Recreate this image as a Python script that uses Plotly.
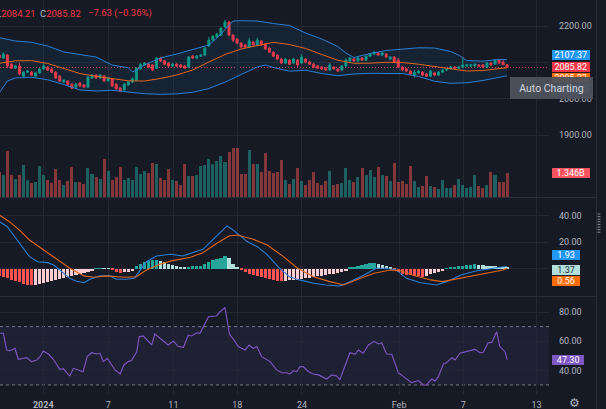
import plotly.graph_objects as go

# candles, left to right (index 0..126)
open_ = [2120, 2112, 2120, 2095, 2084, 2090, 2062, 2073, 2073, 2062,
         2071, 2082, 2087, 2082, 2073, 2062, 2046, 2049, 2040, 2032,
         2043, 2038, 2032, 2057, 2065, 2057, 2062, 2049, 2054, 2040,
         2029, 2024, 2038, 2046, 2051, 2082, 2093, 2095, 2093, 2084,
         2112, 2104, 2098, 2090, 2095, 2093, 2090, 2087, 2117, 2112,
         2117, 2120, 2145, 2161, 2170, 2175, 2197, 2211, 2175, 2164,
         2153, 2148, 2142, 2156, 2148, 2159, 2150, 2139, 2128, 2120,
         2109, 2098, 2106, 2098, 2106, 2098, 2109, 2101, 2095, 2090,
         2087, 2084, 2079, 2087, 2082, 2079, 2090, 2104, 2109, 2104,
         2112, 2106, 2117, 2123, 2126, 2120, 2123, 2109, 2115, 2106,
         2087, 2082, 2076, 2065, 2071, 2073, 2068, 2062, 2071, 2065,
         2073, 2079, 2082, 2087, 2084, 2087, 2090, 2090, 2090, 2093,
         2093, 2087, 2098, 2095, 2106, 2101, 2093.45]
high = [2126, 2128, 2123, 2098, 2093, 2098, 2076, 2079, 2076, 2073,
        2084, 2098, 2090, 2084, 2076, 2065, 2054, 2051, 2043, 2043,
        2046, 2040, 2062, 2068, 2068, 2068, 2065, 2060, 2057, 2043,
        2032, 2043, 2049, 2060, 2087, 2098, 2101, 2098, 2095, 2115,
        2115, 2106, 2101, 2098, 2098, 2095, 2093, 2117, 2120, 2120,
        2123, 2142, 2170, 2175, 2181, 2197, 2217, 2214, 2178, 2167,
        2156, 2150, 2167, 2159, 2167, 2161, 2153, 2142, 2131, 2123,
        2112, 2112, 2109, 2112, 2109, 2123, 2112, 2104, 2098, 2093,
        2090, 2087, 2098, 2090, 2084, 2093, 2112, 2115, 2112, 2115,
        2115, 2120, 2126, 2131, 2128, 2128, 2126, 2117, 2117, 2112,
        2090, 2084, 2079, 2079, 2079, 2076, 2071, 2079, 2073, 2076,
        2082, 2084, 2090, 2090, 2090, 2112, 2095, 2095, 2098, 2095,
        2095, 2101, 2101, 2109, 2109, 2106, 2095]
low = [2109, 2109, 2084, 2082, 2082, 2065, 2060, 2071, 2062, 2060,
       2068, 2079, 2076, 2071, 2054, 2046, 2043, 2035, 2027, 2029,
       2032, 2029, 2029, 2054, 2054, 2054, 2046, 2046, 2032, 2024,
       2018, 2021, 2035, 2043, 2049, 2079, 2090, 2084, 2076, 2082,
       2101, 2093, 2087, 2087, 2087, 2084, 2084, 2084, 2109, 2109,
       2115, 2117, 2142, 2158, 2167, 2172, 2194, 2172, 2156, 2150,
       2139, 2139, 2139, 2145, 2145, 2145, 2134, 2126, 2115, 2106,
       2095, 2095, 2093, 2095, 2087, 2095, 2098, 2093, 2084, 2082,
       2079, 2076, 2076, 2079, 2073, 2076, 2087, 2098, 2101, 2101,
       2104, 2104, 2115, 2120, 2117, 2117, 2112, 2106, 2098, 2084,
       2076, 2073, 2065, 2057, 2068, 2062, 2060, 2060, 2062, 2062,
       2071, 2076, 2079, 2082, 2082, 2084, 2087, 2087, 2087, 2087,
       2084, 2084, 2090, 2093, 2095, 2093, 2084.21]
close = [2112, 2123, 2090, 2084, 2090, 2068, 2073, 2076, 2065, 2071,
         2082, 2090, 2079, 2073, 2057, 2049, 2051, 2038, 2029, 2040,
         2035, 2032, 2060, 2065, 2057, 2065, 2049, 2057, 2035, 2027,
         2021, 2040, 2046, 2054, 2084, 2095, 2098, 2087, 2079, 2112,
         2104, 2095, 2090, 2095, 2090, 2087, 2084, 2115, 2112, 2117,
         2120, 2139, 2161, 2172, 2178, 2194, 2211, 2175, 2161, 2153,
         2142, 2142, 2159, 2148, 2161, 2148, 2137, 2128, 2117, 2109,
         2098, 2109, 2095, 2109, 2093, 2115, 2101, 2095, 2087, 2084,
         2082, 2079, 2093, 2082, 2076, 2090, 2106, 2112, 2104, 2112,
         2106, 2117, 2123, 2128, 2120, 2126, 2115, 2115, 2101, 2087,
         2079, 2076, 2068, 2073, 2076, 2065, 2062, 2076, 2065, 2073,
         2079, 2082, 2087, 2084, 2087, 2093, 2093, 2093, 2095, 2090,
         2087, 2098, 2093, 2106, 2098, 2093.45, 2085.82]
# volume in billions
volume = [1.42, 1.23, 2.59, 1.23, 1.00, 1.27, 1.80, 0.95, 0.80, 0.85,
          1.74, 1.23, 0.95, 0.81, 1.57, 0.98, 0.70, 0.89, 1.70, 0.85,
          0.85, 0.72, 1.67, 1.29, 1.14, 1.00, 2.14, 1.48, 0.98, 1.14,
          1.70, 0.98, 1.08, 0.95, 1.70, 1.29, 1.48, 1.38, 1.95, 1.89,
          1.10, 0.98, 1.61, 0.95, 0.89, 0.70, 1.87, 1.21, 1.17, 1.27,
          1.78, 1.82, 2.14, 1.89, 2.06, 2.31, 1.97, 2.54, 2.80, 2.80,
          1.29, 1.33, 2.69, 1.87, 1.87, 1.42, 2.52, 1.48, 1.38, 1.42,
          2.12, 0.98, 0.72, 1.00, 1.67, 0.89, 0.70, 0.98, 1.42, 0.80,
          0.70, 0.89, 1.48, 0.70, 0.74, 0.81, 1.67, 0.98, 0.85, 1.14,
          1.63, 1.23, 1.51, 1.14, 1.68, 1.27, 1.21, 0.89, 1.93, 0.85,
          0.89, 0.74, 1.74, 0.93, 0.57, 0.62, 1.17, 0.62, 0.57, 0.44,
          0.95, 0.51, 0.53, 0.66, 1.02, 0.70, 0.53, 0.57, 1.23, 0.62,
          0.53, 0.70, 1.42, 1.23, 0.85, 0.85, 1.346]

# Bollinger bands (vertices at candle index)
bb_upper_idx = [0, 4, 8, 12, 16, 20, 24, 28, 32, 33, 34, 36, 40, 44, 48, 52, 54, 56, 58, 60,
                64, 68, 72, 76, 80, 84, 86, 88, 92, 96, 100, 104, 108, 112, 114, 116, 120, 124, 126]
bb_upper = [2167.9, 2158.8, 2155.2, 2145.0, 2128.5, 2122.2, 2114.7, 2092.7, 2085.3, 2073.5,
            2079.0, 2092.7, 2112.0, 2123.0, 2135.4, 2147.8, 2167.0, 2191.8, 2213.8, 2214.6,
            2213.8, 2206.9, 2201.4, 2180.8, 2164.3, 2143.6, 2125.7, 2113.4, 2124.4, 2132.6,
            2135.9, 2140.1, 2139.5, 2129.9, 2120.2, 2105.1, 2103.2, 2108.1, 2107.37]
bb_basis_idx = [0, 4, 8, 12, 16, 20, 24, 28, 32, 36, 40, 44, 48, 52, 56, 60, 64, 68, 72, 76,
                80, 84, 88, 92, 96, 100, 104, 108, 112, 116, 120, 124, 126]
bb_basis = [2097.4, 2104.3, 2104.8, 2096.9, 2083.1, 2069.3, 2061.6, 2056.4, 2049.2, 2048.7,
            2055.6, 2065.2, 2079.0, 2101.0, 2121.6, 2136.8, 2146.4, 2155.2, 2149.1, 2138.1,
            2121.6, 2105.7, 2097.4, 2097.7, 2100.2, 2099.6, 2094.9, 2088.6, 2081.7, 2076.2,
            2077.6, 2083.6, 2085.23]
bb_lower_idx = [0, 1, 2, 4, 8, 12, 16, 20, 24, 28, 32, 36, 40, 44, 48, 52, 56, 60, 64, 66,
                68, 72, 76, 80, 84, 88, 92, 96, 100, 104, 108, 112, 116, 120, 124, 126]
bb_lower = [2015.7, 2033.0, 2048.7, 2056.9, 2058.9, 2052.0, 2039.1, 2023.9, 2021.2, 2023.1,
            2017.6, 2013.7, 2012.1, 2013.2, 2017.6, 2028.0, 2045.4, 2065.2, 2087.2, 2092.7,
            2085.8, 2075.7, 2078.4, 2069.3, 2063.3, 2068.0, 2069.9, 2069.3, 2069.3, 2061.3,
            2047.9, 2042.4, 2043.7, 2050.1, 2057.5, 2063.10]

# MACD
macd_idx = [0, 2, 3.5, 5, 7.5, 9.5, 12, 13.5, 15, 17.5, 19, 21, 22.5, 25, 27.5, 29, 31.5, 33.5,
            35, 36.5, 39, 42.5, 45.5, 48, 50.5, 52.5, 55, 56.5, 58, 61.5, 64, 66.5, 69.5, 72,
            74.5, 78, 81, 84.5, 87, 90.5, 93.5, 96, 98.5, 101, 104.5, 108.5, 111, 114.5, 118.5,
            122.5, 125, 126]
macd_line = [35.5, 31.7, 25.5, 19.3, 9.2, 5.4, 4.7, 2.9, -0.8, -7.1, -9.1, -10.4, -7.8, -5.3,
             -5.3, -7.8, -7.8, -7.1, -0.8, 5.4, 9.7, 11.0, 9.7, 12.2, 14.7, 20.5, 28.0, 32.3,
             29.3, 20.5, 16.7, 10.5, 0.5, -5.9, -8.3, -10.8, -12.1, -12.9, -9.6, -4.6, 0.5, 0.5,
             -0.8, -7.1, -10.4, -12.1, -9.6, -4.6, -1.4, 0.5, 1.7, 1.93]
signal_idx = [0, 2.5, 5, 7.5, 11, 14, 17.5, 21, 23.5, 26.5, 31, 34, 36.5, 40, 43, 47.5, 50.5,
              54, 57, 59, 63, 66.5, 70.5, 74, 78, 82, 85.5, 88.5, 93, 97, 99.5, 102.5, 107,
              110, 114.5, 118.5, 122.5, 125, 126]
signal_line = [40.5, 35.5, 29.2, 21.7, 14.2, 8.0, 0.5, -5.3, -6.3, -5.3, -6.3, -5.9, -0.8, 3.7,
               6.2, 8.7, 12.2, 19.3, 24.7, 25.5, 22.3, 18.0, 9.2, 0.5, -5.9, -9.6, -12.1, -8.3,
               -3.3, -0.8, -1.4, -4.6, -8.3, -9.6, -7.1, -4.6, -2.1, -0.8, 0.56]
macd_hist = [-5.0, -6.0, -7.0, -8.0, -9.0, -10.0, -11.0, -11.8, -12.3, -12.0,
             -11.5, -10.8, -10.0, -9.0, -8.0, -7.5, -7.0, -6.3, -5.5, -4.5,
             -3.5, -3.0, -2.5, -1.5, 0.3, 0.5, 0.4, 0.3, -1.0, -2.0,
             -2.8, -2.5, -2.0, -1.5, 2.5, 4.0, 5.5, 6.3, 6.8, 7.0,
             6.2, 5.0, 4.0, 3.0, 2.2, 1.5, 1.0, 1.5, 2.0, 2.2,
             2.3, 3.5, 5.0, 6.5, 7.5, 8.5, 10.0, 8.0, 4.0, 1.0,
             -1.0, -2.5, -3.5, -4.3, -5.0, -5.8, -6.5, -7.3, -8.0, -8.8,
             -9.3, -9.0, -8.7, -8.3, -8.0, -7.5, -7.0, -6.5, -6.0, -5.5,
             -5.0, -4.5, -4.0, -3.6, -3.2, -2.5, -1.5, 0.8, 1.5, 2.2,
             3.0, 3.5, 4.2, 4.6, 4.0, 3.2, 2.3, 1.2, -1.0, -2.5,
             -3.5, -4.3, -4.8, -5.2, -5.5, -5.8, -5.0, -4.2, -3.4, -2.6,
             -1.8, 0.6, 1.2, 1.7, 2.1, 2.5, 2.8, 3.1, 3.3, 3.0,
             2.6, 2.3, 2.0, 1.8, 1.6, 1.5, 1.37]

# RSI
rsi_idx = [0.2, 1, 1.8, 2.7, 3.9, 4.7, 6, 6.8, 8, 9.3,
           10.1, 10.9, 12.2, 13.4, 15, 15.9, 16.7, 17.5, 18.4, 19.6,
           20.8, 21.8, 22.9, 24.2, 25, 25.8, 26.8, 27.9, 28.7, 30,
           30.9, 32, 32.8, 34.1, 34.7, 35.7, 37, 37.8, 38.6, 39.9,
           41.1, 41.9, 43.2, 44.4, 45.7, 46.9, 47.7, 49, 49.8, 50.6,
           51.9, 53.9, 54.8, 56, 57.1, 58.1, 59.3, 61, 62, 63,
           63.9, 65.1, 66.3, 67.2, 68.8, 70.1, 71.3, 72.1, 73, 73.8,
           74.6, 75.4, 76.7, 77.9, 79.2, 80.4, 81.2, 82.5, 83.7, 84.5,
           85.8, 87, 88.3, 89.1, 90.3, 91.6, 93, 94.1, 94.9, 96.1,
           97.4, 99, 100.3, 101.5, 102.3, 104, 105.2, 106, 107.3, 108.1,
           108.9, 110.2, 111, 112.3, 113.1, 114.3, 115.6, 116.8, 118, 119.3,
           120.1, 121.3, 122.2, 123.4, 124.2, 125.5, 126]
rsi = [65.4, 65.4, 54.0, 53.5, 55.1, 47.6, 48.3, 48.7, 46.0, 47.1,
       49.4, 53.3, 51.2, 47.6, 40.7, 41.2, 38.4, 36.2, 41.4, 40.3,
       39.1, 49.4, 52.1, 51.2, 51.7, 46.0, 48.3, 43.7, 40.3, 37.5,
       43.7, 46.0, 46.7, 52.8, 63.1, 63.6, 59.7, 57.4, 64.9, 62.0,
       59.0, 57.4, 60.1, 56.3, 55.8, 64.2, 63.6, 65.8, 65.4, 70.0,
       76.8, 77.3, 80.2, 83.2, 64.9, 61.3, 56.3, 54.0, 57.4, 55.1,
       56.3, 49.4, 47.1, 46.0, 40.3, 38.4, 38.4, 37.5, 39.8, 39.1,
       42.6, 42.6, 39.1, 37.5, 36.9, 35.3, 34.1, 36.9, 36.2, 33.6,
       42.6, 52.1, 51.0, 54.0, 51.7, 57.4, 59.9, 58.1, 59.0, 51.2,
       51.0, 38.4, 35.7, 33.4, 31.6, 33.0, 30.0, 30.0, 34.1, 32.7,
       35.3, 44.4, 45.3, 48.7, 47.1, 51.7, 52.8, 53.5, 54.4, 52.1,
       52.4, 59.0, 59.2, 66.5, 56.3, 52.8, 47.3]

time_tick_idx = [10.9, 27.05, 43.2, 59.05, 75.1, 99.2, 115.1, 133.3]
time_tick_text = ["<b>2024</b>", "7", "11", "18", "24", "Feb", "7", "13"]
price_ticks = [1900, 2000, 2100, 2200]
price_tick_text = ["1900.00", "2000.00", "", "2200.00"]   # 2100 sits under the value tags
macd_ticks = [0, 20, 40]
macd_tick_text = ["", "20.00", "40.00"]                    # 0 sits under the value tags
rsi_ticks = [40, 60, 80]

# style
BG = "#161a25"
GRID = "#232733"
TXT = "#b2b5be"
UP = "#089981"
DN = "#f23645"
BLUE = "#2a7fd4"
ORANGE = "#e0661a"
FONT = "Roboto, 'DejaVu Sans', sans-serif"

W, H = 606, 409
MR, MB = 57, 15
PW, PH = W - MR, H - MB


def ypx(row):
    return 1 - row / PH


def xpx(col):
    return col / PW


idx = list(range(len(close)))
vol_colors = ["rgba(38,166,154,0.5)" if c >= o else "rgba(239,83,80,0.5)"
              for o, c in zip(open_, close)]

hist_colors = []
prev = 0
for h in macd_hist:
    if h >= 0:
        hist_colors.append("#26a69a" if h >= prev else "#b2dfdb")
    else:
        hist_colors.append("#ff5252" if h < prev else "#ffcdd2")
    prev = h

fig = go.Figure()
fig.add_trace(go.Bar(x=idx, y=volume, width=0.75, marker=dict(color=vol_colors, line_width=0),
                     xaxis="x", yaxis="y"))
fig.add_trace(go.Scatter(x=bb_lower_idx, y=bb_lower, mode="lines", line=dict(color=BLUE, width=1),
                         xaxis="x", yaxis="y2"))
fig.add_trace(go.Scatter(x=bb_upper_idx, y=bb_upper, mode="lines", line=dict(color=BLUE, width=1),
                         fill="tonexty", fillcolor="rgba(33,150,243,0.07)", xaxis="x", yaxis="y2"))
fig.add_trace(go.Scatter(x=bb_basis_idx, y=bb_basis, mode="lines", line=dict(color=ORANGE, width=1),
                         xaxis="x", yaxis="y2"))
fig.add_trace(go.Candlestick(x=idx, open=open_, high=high, low=low, close=close,
                             increasing=dict(line=dict(color=UP, width=1), fillcolor=UP),
                             decreasing=dict(line=dict(color=DN, width=1), fillcolor=DN),
                             whiskerwidth=0, xaxis="x", yaxis="y2"))
fig.add_trace(go.Bar(x=idx, y=macd_hist, width=0.8, marker=dict(color=hist_colors, line_width=0),
                     xaxis="x2", yaxis="y3"))
fig.add_trace(go.Scatter(x=macd_idx, y=macd_line, mode="lines", line=dict(color=BLUE, width=1.1),
                         xaxis="x2", yaxis="y3"))
fig.add_trace(go.Scatter(x=signal_idx, y=signal_line, mode="lines", line=dict(color=ORANGE, width=1.1),
                         xaxis="x2", yaxis="y3"))
fig.add_trace(go.Scatter(x=rsi_idx, y=rsi, mode="lines", line=dict(color="#7e57c2", width=1.1),
                         xaxis="x3", yaxis="y4"))

tickfont = dict(size=9, color=TXT, family=FONT)
xcommon = dict(range=[0.17, 136.4], tickvals=time_tick_idx, ticktext=time_tick_text,
               showgrid=True, gridcolor=GRID, zeroline=False, showline=False, ticks="",
               fixedrange=True, domain=[0, 1])
ycommon = dict(side="right", showgrid=True, gridcolor=GRID, zeroline=False, showline=False,
               ticks="", tickfont=tickfont, ticklabelstandoff=9, fixedrange=True)

fig.update_layout(
    width=W, height=H, autosize=False,
    margin=dict(l=0, r=MR, t=0, b=MB, pad=0),
    paper_bgcolor=BG, plot_bgcolor=BG,
    showlegend=False, hovermode=False, bargap=0,
    font=dict(family=FONT, color=TXT, size=9),
    xaxis=dict(**xcommon, anchor="y", showticklabels=False, rangeslider=dict(visible=False)),
    xaxis2=dict(**xcommon, anchor="y3", showticklabels=False),
    xaxis3=dict(**xcommon, anchor="y4", showticklabels=True, tickfont=tickfont,
                ticklabelstandoff=4, automargin=False),
    yaxis=dict(domain=[ypx(197), 1], range=[0, 11.19], visible=False, fixedrange=True),
    yaxis2=dict(**ycommon, overlaying="y", anchor="x", range=[1729.5, 2271.6],
                tickvals=price_ticks, ticktext=price_tick_text),
    yaxis3=dict(**ycommon, domain=[ypx(296), ypx(198)], anchor="x2", range=[-20.4, 53.3],
                tickvals=macd_ticks, ticktext=macd_tick_text),
    yaxis4=dict(**ycommon, domain=[0, ypx(297)], anchor="x3", range=[23.8, 90.3],
                tickvals=rsi_ticks, tickformat=".2f"),
)

shapes = [
    dict(type="rect", xref="paper", yref="y4", x0=0, x1=1, y0=30, y1=70,
         fillcolor="rgba(126,87,194,0.1)", line_width=0, layer="between"),
    dict(type="line", xref="paper", yref="y4", x0=0, x1=1, y0=70, y1=70,
         line=dict(color="#787b86", width=1, dash="3px,3px"), layer="between"),
    dict(type="line", xref="paper", yref="y4", x0=0, x1=1, y0=30, y1=30,
         line=dict(color="#787b86", width=1, dash="3px,3px"), layer="between"),
    dict(type="line", xref="paper", yref="y2", x0=0, x1=1, y0=close[-1], y1=close[-1],
         line=dict(color=DN, width=1, dash="1px,2px"), layer="between"),
    dict(type="line", xref="paper", yref="paper", x0=0, x1=xpx(596), y0=ypx(197.5), y1=ypx(197.5),
         line=dict(color="#2a2e39", width=1)),
    dict(type="line", xref="paper", yref="paper", x0=0, x1=xpx(596), y0=ypx(296.5), y1=ypx(296.5),
         line=dict(color="#2a2e39", width=1)),
    dict(type="line", xref="paper", yref="paper", x0=xpx(596.5), x1=xpx(596.5), y0=ypx(H), y1=1,
         line=dict(color="#2a2e39", width=1)),
]
for k in range(8):
    yy = 214 + k * 2.6
    shapes.append(dict(type="line", xref="paper", yref="paper", x0=xpx(597.5), x1=xpx(600.5),
                       y0=ypx(yy), y1=ypx(yy), line=dict(color="#8a8d96", width=1)))
fig.update_layout(shapes=shapes)


def tag(text, yref, y, bg, w, shift=0, fg="#ffffff"):
    return dict(text=text, xref="paper", x=1, xanchor="left", xshift=2.7,
                yref=yref, y=y, yanchor="middle", yshift=shift, showarrow=False,
                bgcolor=bg, borderwidth=0, borderpad=1, width=w, height=8, align="center",
                font=dict(color=fg, size=9, family=FONT))


change = close[-1] - close[-2]
ann = [
    dict(text='<span style="color:#b2b5be">L</span>%.2f' % low[-1], xref="paper", x=xpx(-6),
         xanchor="left", yref="paper", y=ypx(13.3), yanchor="middle", showarrow=False,
         font=dict(color=DN, size=9.5, family=FONT)),
    dict(text='<span style="color:#b2b5be">C</span>%.2f' % close[-1], xref="paper", x=xpx(37.5),
         xanchor="left", yref="paper", y=ypx(13.3), yanchor="middle", showarrow=False,
         font=dict(color=DN, size=9.5, family=FONT)),
    dict(text="\u2212%.2f (\u2212%.2f%%)" % (-change, -change / close[-2] * 100),
         xref="paper", x=xpx(86), xanchor="left", yref="paper", y=ypx(13.3), yanchor="middle",
         showarrow=False, font=dict(color=DN, size=9.5, family=FONT)),
    tag("%.2f" % bb_upper[-1], "y2", bb_upper[-1], "#2196f3", 35.6, 5),
    tag("%.2f" % close[-1], "y2", close[-1], DN, 35.6, 1),
    tag("%.2f" % bb_basis[-1], "y2", bb_basis[-1], "#ff6d00", 35.6, -10),
    tag("%.2f" % bb_lower[-1], "y2", bb_lower[-1], "#2196f3", 35.6, -13),
    tag("%.3fB" % volume[-1], "y", volume[-1], "#f7525f", 35.6, 0),
    tag("%.2f" % macd_line[-1], "y3", macd_line[-1], "#2196f3", 26.3, 11),
    tag("%.2f" % macd_hist[-1], "y3", macd_hist[-1], "#b2dfdb", 26.3, -3, fg="#2a2e39"),
    tag("%.2f" % signal_line[-1], "y3", signal_line[-1], "#ff6d00", 26.3, -13),
    tag("%.2f" % rsi[-1], "y4", rsi[-1], "#7e57c2", 30.3, 0),
    dict(text="Auto Charting", xref="paper", x=xpx(551.5), xanchor="center",
         yref="paper", y=ypx(88.3), yanchor="middle", showarrow=False,
         bgcolor="rgba(78,81,92,0.96)", borderwidth=0, borderpad=2, width=79, height=18,
         font=dict(color="#d1d4dc", size=10.5, family=FONT)),
    dict(text="\u2699", xref="paper", x=xpx(574), xanchor="center", yref="paper", y=ypx(403),
         yanchor="middle", showarrow=False, font=dict(color=TXT, size=12, family="DejaVu Sans")),
]
fig.update_layout(annotations=ann)

# page body margin would shift the chart by 8px
fig.write_html("out.html", config={"displayModeBar": False},
               post_script="document.body.style.margin='0';document.body.style.background='%s';" % BG)
